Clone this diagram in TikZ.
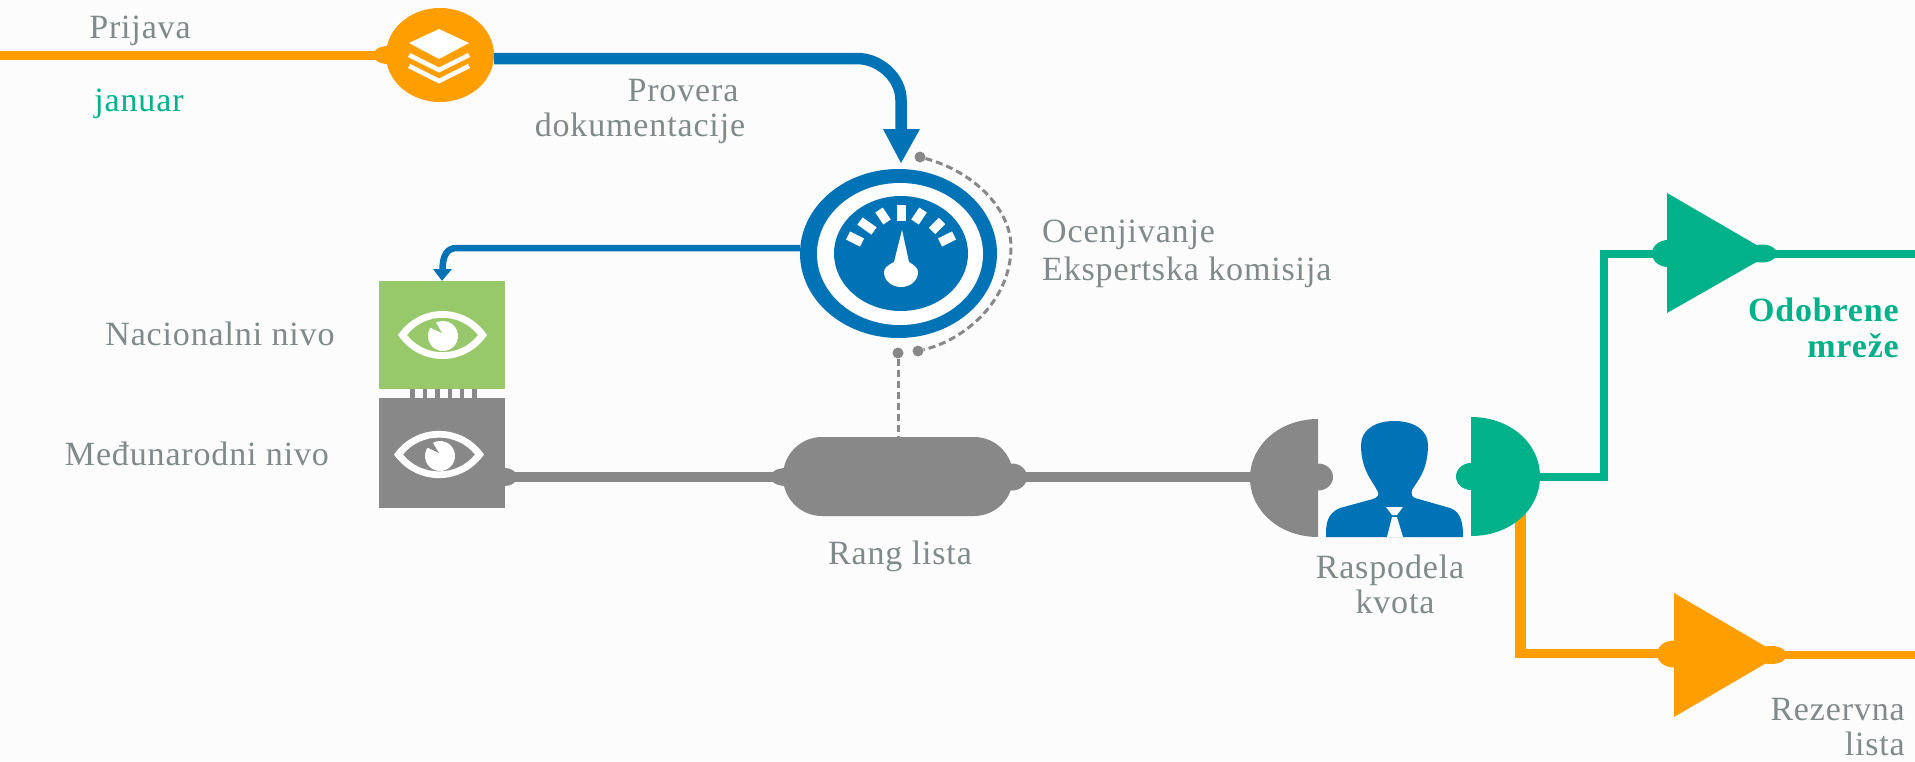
\documentclass[tikz,border=0pt]{standalone}
\usepackage{fontspec}
\setmainfont[LetterSpace=2.5]{Liberation Serif}
\usetikzlibrary{shapes.geometric,calc}
\definecolor{bg}{HTML}{FCFCFC}
\definecolor{cblue}{HTML}{0073B7}
\definecolor{corange}{HTML}{FF9E00}
\definecolor{cgreen}{HTML}{00B18A}
\definecolor{cgrey}{HTML}{888888}
\definecolor{clime}{HTML}{97C96B}
\definecolor{ctext}{HTML}{808A8A}
\tikzset{
  x=1pt,y=-1pt,
  lbl/.style={font=\fontsize{34}{40}\selectfont,text=ctext,inner sep=0pt},
  blob/.style={ellipse,inner sep=0pt,draw=none},
  sq/.style={rectangle,inner sep=0pt,minimum width=126pt},
  dot/.style={circle,fill=cgrey,inner sep=0pt,minimum size=11pt},
  wire/.style={line width=#1,line join=miter},
  dashline/.style={draw=cgrey,line width=3pt,dash pattern=on 7pt off 4pt},
}
\begin{document}
\begin{tikzpicture}
\useasboundingbox (0,0) rectangle (1915,761);
\fill[bg] (0,0) rectangle (1915,761);

% ---- layers node
\coordinate (startL) at (0,55);
\draw[corange,wire=9pt] (startL) -- (400,55);
\node[blob,fill=corange,minimum width=30pt,minimum height=18pt] (nubL) at (388,55) {};
\node[blob,fill=corange,minimum width=108pt,minimum height=94pt] (layers) at (440,55) {};
\fill[white] (439,29) -- (469,43) -- (439,59) -- (409,43) -- cycle;
\draw[white,line width=4.5pt] (409,55) -- (439,70) -- (469,55);
\draw[white,line width=4.5pt] (409,66) -- (439,81) -- (469,66);

% ---- gauge node
\node[blob,fill=cblue,minimum width=197pt,minimum height=169pt] (gauge) at (898.5,253.5) {};
\node[blob,fill=white,minimum width=166pt,minimum height=142pt] (gaugeW) at (900,254) {};
\node[blob,fill=cblue,minimum width=134pt,minimum height=115pt] (gaugeI) at (901,253.5) {};
\foreach \a/\b/\c/\d in {848/235.5/862/242.5, 860/221/874/231, 879/210/887/222, 901/205/901/221, 923/210/915/222, 942/221/932/231, 954/235.5/940/242.5}
  \draw[white,line width=9pt] (\a,\b) -- (\c,\d);
\fill[white] (902,230) -- (909,262) .. controls (914,265) and (918,268) .. (918,272)
  .. controls (918,281) and (910,287) .. (901,287) .. controls (892,287) and (884,281) .. (884,272)
  .. controls (884,268) and (888,265) .. (894,262) -- cycle;

% ---- blue top connector
\coordinate (tipTop) at (901,163);
\draw[cblue,line width=11.5pt] ($(layers.east)+(0,3.5)$) -- (857,58.5) .. controls (880,58.5) and (901,78) .. (901,100) -- (901,131);
\fill[cblue] (883,129) -- (920,129) -- (tipTop) -- cycle;

% ---- squares
\node[sq,fill=clime,minimum height=108pt] (nat) at (442,335) {};
\node[sq,fill=cgrey,minimum height=110pt] (intl) at (442,453) {};
\foreach \xx in {412.5,425,437.5,450,462,474.5}
  \draw[cgrey,line width=4.5pt] (\xx,389) -- (\xx,398);

% ---- eyes
\fill[white,even odd rule] (398,335) .. controls (420,303) and (465,303) .. (487,335) .. controls (465,367) and (420,367) .. (398,335)
  (407,335) .. controls (425,358) and (460,358) .. (478,335) .. controls (460,312) and (425,312) .. (407,335);
\fill[white] (443,336) circle[radius=15];
\fill[clime] (442,333) -- (427,326) -- (433,318) -- cycle;
\fill[white,even odd rule] (394,454.5) .. controls (416,423) and (462,423) .. (484,454.5) .. controls (462,486) and (416,486) .. (394,454.5)
  (403,454.5) .. controls (421,477) and (457,477) .. (475,454.5) .. controls (457,432) and (421,432) .. (403,454.5);
\fill[white] (440,456) circle[radius=15];
\fill[cgrey] (439,453) -- (424,446) -- (430,438) -- cycle;

% ---- blue thin connector to national square
\draw[cblue,line width=6.5pt] (gauge.west |- 0,248) -- (457,248) .. controls (447,248) and (442.5,255) .. (442.5,271);
\fill[cblue] (433,269) -- (452,269) -- (nat.north) -- cycle;

% ---- rang list
\node[rectangle,fill=cgrey,rounded corners=39pt,minimum width=230pt,minimum height=79pt,inner sep=0pt] (rang) at (898,476.5) {};
\node[blob,fill=cgrey,minimum width=32pt,minimum height=18pt] (rnubL) at (786,477) {};
\node[blob,fill=cgrey,minimum width=30pt,minimum height=27pt] (rnubR) at (1012,477) {};
\node[blob,fill=cgrey,minimum width=24pt,minimum height=18pt] (inub) at (505,477) {};
\draw[cgrey,wire=9.5pt] (inub.center) -- (rnubL.center);

% ---- dashed
\node[dot] (d1) at (920,157) {};
\node[dot] (d2) at (918,351) {};
\node[dot] (d3) at (898,353) {};
\draw[dashline] (d1) .. controls (975,172) and (1011,210) .. (1011,247) .. controls (1011,300) and (965,340) .. (d2);
\draw[dashline] (d3) -- (d3 |- rang.north);

% ---- reserve branch (passes behind the green half)
\coordinate (s2) at (1520.5,505);
\coordinate (t2L) at (1674,653.5);
\coordinate (e2) at (1915,655);
\draw[corange,wire=10.5pt] (s2) -- (1520.5,653.5);
\draw[corange,wire=9pt] (1515.25,653.5) -- (t2L);
\fill[corange] (1674,593) -- (1768,648) -- (1768,662) -- (1674,717) -- cycle;
\node[blob,fill=corange,minimum width=34pt,minimum height=27pt] (t2n) at (1674,654) {};
\node[blob,fill=corange,minimum width=32pt,minimum height=18pt] (t2m) at (1771,655) {};
\draw[corange,wire=8pt] (t2m.center) -- (e2);

% ---- allocation
\coordinate (gw) at (1255,477);
\draw[cgrey,wire=9.5pt] (rnubR.center) -- (gw);
\fill[cgrey] (1318,419) -- (1318,537) .. controls (1280,537) and (1250,511) .. (1250,478) .. controls (1250,445) and (1280,419) .. (1318,419) -- cycle;
\node[blob,fill=cgrey,minimum width=30pt,minimum height=27pt] (gnub) at (1318,477) {};
\fill[cblue] (1326,537) .. controls (1326,525) and (1326,514) .. (1340,508) -- (1373,499)
 .. controls (1378,497) and (1379,495) .. (1378,492) .. controls (1372,480) and (1361,470) .. (1361,445)
 .. controls (1361,430) and (1375,421) .. (1394,421) .. controls (1414,421) and (1428,430) .. (1428,445)
 .. controls (1428,470) and (1418,480) .. (1412,490) .. controls (1411,494) and (1412,497) .. (1415,498)
 -- (1450,508) .. controls (1462,512) and (1463,525) .. (1463,537) -- cycle;
\fill[bg] (1386,507) -- (1403,507) -- (1397,515) -- (1392,515) -- cycle;
\fill[bg] (1392,517) -- (1397,517) -- (1403,537) -- (1387,537) -- cycle;
\fill[cgreen] (1471,417) -- (1471,536) .. controls (1510,536) and (1540,510) .. (1540,476.5) .. controls (1540,443) and (1510,417) .. (1471,417) -- cycle;
\node[blob,fill=cgreen,minimum width=30pt,minimum height=27pt] (gnub2) at (1471,476.5) {};
\coordinate (ge) at (1538,477);

% ---- approved branch
\coordinate (t1L) at (1667,253.5);
\coordinate (e1) at (1915,253.5);
\draw[cgreen,wire=8pt] (ge) -| (1604,253.5) -- (t1L);
\fill[cgreen] (1667,193) -- (1760,247) -- (1760,260) -- (1667,313) -- cycle;
\node[blob,fill=cgreen,minimum width=32pt,minimum height=27pt] (t1n) at (1668,253.5) {};
\node[blob,fill=cgreen,minimum width=30pt,minimum height=18pt] (t1m) at (1762,253.5) {};
\draw[cgreen,wire=8pt] (t1m.center) -- (e1);

% ---- labels
\node[lbl] (l1) at (140,31) {Prijava};
\node[lbl,text=cgreen] (l2) at (139,104) {januar};
\node[lbl] (l3) at (683,91) {Provera};
\node[lbl] (l4) at (640,128) {dokumentacije};
\node[lbl,anchor=west] (l5) at (1042,235) {Ocenjivanje};
\node[lbl,anchor=west] (l6) at (1042,272) {Ekspertska komisija};
\node[lbl] (l7) at (220,334) {Nacionalni nivo};
\node[lbl] (l8) at (197,454) {Međunarodni nivo};
\node[lbl] (l9) at (900,556) {Rang lista};
\node[lbl] (l10) at (1390,570) {Raspodela};
\node[lbl] (l11) at (1395,602) {kvota};
\node[lbl,anchor=east,text=cgreen,font=\fontsize{34}{40}\selectfont\bfseries] (l12) at (1899,310) {Odobrene};
\node[lbl,anchor=east,text=cgreen,font=\fontsize{34}{40}\selectfont\bfseries] (l13) at (1899,346) {mreže};
\node[lbl,anchor=east] (l14) at (1905,710) {Rezervna};
\node[lbl,anchor=east] (l15) at (1905,744) {lista};
\end{tikzpicture}
\end{document}
